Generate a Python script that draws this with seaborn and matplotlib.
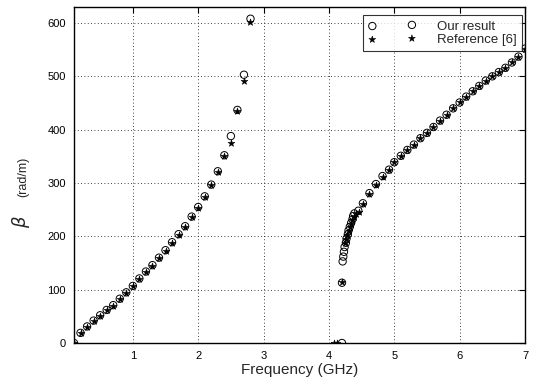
import matplotlib
matplotlib.use("Agg")
import matplotlib.pyplot as plt
import seaborn as sns
import pandas as pd

# ---- data ----
ours_freq = [0.1, 0.2, 0.3, 0.4, 0.5, 0.6, 0.7, 0.8, 0.9, 1.0, 1.1, 1.2, 1.3, 1.4,
             1.5, 1.6, 1.7, 1.8, 1.9, 2.0, 2.1, 2.2, 2.3, 2.4, 2.5, 2.6, 2.7, 2.8,
             4.2, 4.2, 4.21, 4.22, 4.23, 4.24, 4.26, 4.27, 4.29, 4.30, 4.32, 4.34,
             4.36, 4.37, 4.39, 4.45, 4.52, 4.62, 4.72, 4.82, 4.92, 5.0, 5.1, 5.2,
             5.3, 5.4, 5.5, 5.6, 5.7, 5.8, 5.9, 6.0, 6.1, 6.2, 6.3, 6.4, 6.5, 6.6,
             6.7, 6.8, 6.9, 7.0]
ours_beta = [0, 19, 31, 42, 52, 62, 71, 83, 95, 107, 121, 134, 146, 160, 174, 189,
             204, 219, 237, 255, 275, 297, 322, 352, 388, 437, 503, 608,
             0, 113, 153, 162, 171, 180, 188, 196, 204, 211, 218, 225, 232, 238,
             243, 248, 262, 281, 298, 313, 325, 339, 351, 362, 372, 384, 394, 405,
             417, 428, 440, 451, 462, 472, 482, 492, 500, 508, 516, 526, 537, 552]

ref_freq = [0.1, 0.2, 0.3, 0.4, 0.5, 0.6, 0.7, 0.8, 0.9, 1.0, 1.1, 1.2, 1.3, 1.4,
            1.5, 1.6, 1.7, 1.8, 1.9, 2.0, 2.1, 2.2, 2.3, 2.4, 2.5, 2.6, 2.7, 2.8,
            4.08, 4.12, 4.2, 4.24, 4.26, 4.28, 4.30, 4.32, 4.34, 4.36, 4.38, 4.41,
            4.46, 4.52, 4.62, 4.72, 4.82, 4.92, 5.0, 5.1, 5.2, 5.3, 5.4, 5.5, 5.6,
            5.7, 5.8, 5.9, 6.0, 6.1, 6.2, 6.3, 6.4, 6.5, 6.6, 6.7, 6.8, 6.9, 7.0]
ref_beta = [0, 18, 30, 41, 51, 61, 70, 82, 94, 106, 120, 133, 145, 159, 173, 188,
            203, 218, 236, 253, 274, 296, 321, 351, 375, 435, 492, 601,
            0, 0, 115, 187, 195, 203, 210, 217, 224, 231, 237, 242, 246, 260,
            279, 296, 311, 324, 339, 351, 362, 372, 384, 394, 405, 417, 428, 440,
            451, 462, 472, 482, 492, 500, 508, 516, 526, 537, 552]

labels = ["Our result", "Reference [6]"]
x_ticks = [1, 2, 3, 4, 5, 6, 7]
y_ticks = [0, 100, 200, 300, 400, 500, 600]

df_ours = pd.DataFrame({"f": ours_freq, "b": ours_beta})
df_ref = pd.DataFrame({"f": ref_freq, "b": ref_beta})

sns.set_style("white")
plt.rcParams["font.family"] = ["Liberation Sans", "DejaVu Sans"]

fig = plt.figure(figsize=(5.37, 3.81), dpi=100)
ax = fig.add_axes([74 / 537, 38 / 381, (525 - 74) / 537, (343 - 7) / 381])

sns.scatterplot(data=df_ours, x="f", y="b", ax=ax, marker="o", s=28,
                facecolors="none", edgecolor="black", linewidth=0.7,
                label=labels[0], zorder=3)
sns.scatterplot(data=df_ref, x="f", y="b", ax=ax, marker="*", s=26,
                color="black", edgecolor="black", linewidth=0.4,
                label=labels[1], zorder=4)

ax.set_xlim(0.1, 7)
ax.set_ylim(0, 630)
ax.set_xticks(x_ticks)
ax.set_yticks(y_ticks)
ax.tick_params(direction="in", top=True, right=True, length=4, width=0.8,
               labelsize=8, colors="black", pad=6)
ax.grid(True, linestyle=(0, (1, 3)), color="black", linewidth=0.6)
for sp in ax.spines.values():
    sp.set_color("black")
    sp.set_linewidth(1.0)

ax.set_xlabel("Frequency (GHz)", fontsize=11, labelpad=1)
ax.set_ylabel("")
fig.text(21 / 537, 1 - 222 / 381, r"$\beta$", fontsize=13, rotation=90,
         ha="center", va="center")
fig.text(23 / 537, 1 - 177 / 381, "(rad/m)", fontsize=9, rotation=90,
         ha="center", va="center")

leg = ax.legend(loc="upper right", scatterpoints=2, frameon=True, fancybox=False,
                edgecolor="black", fontsize=9.5, handlelength=3.6,
                borderpad=0.4, labelspacing=0.1, handletextpad=1.6,
                borderaxespad=0.0,
                bbox_to_anchor=((522 - 74) / 451, (343 - 15) / 336))
leg.get_frame().set_linewidth(0.8)

fig.savefig("out.png", dpi=100)
